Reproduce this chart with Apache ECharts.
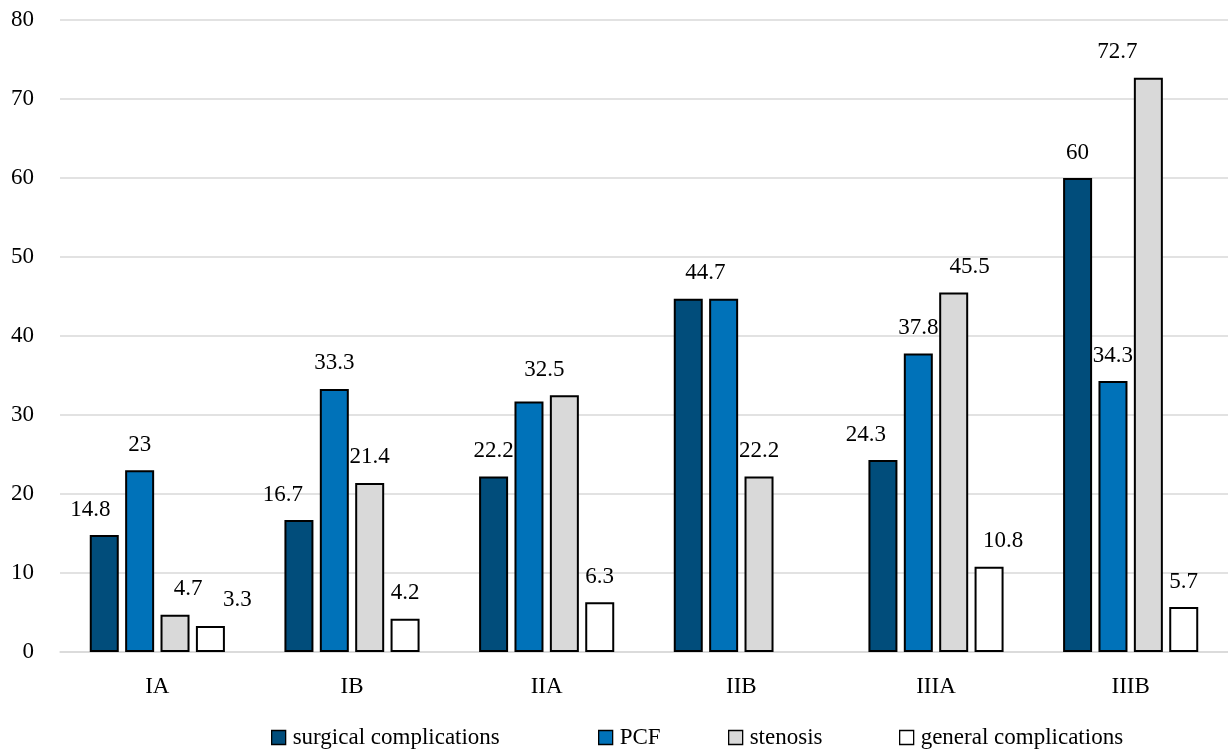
<!DOCTYPE html>
<html>
<head>
<meta charset="utf-8">
<script src="https://cdn.jsdelivr.net/npm/echarts@6/dist/echarts.min.js"></script>
<style>
html,body{margin:0;padding:0;background:#fff;}
#chart{width:1228px;height:749px;}
</style>
</head>
<body>
<div id="chart"></div>
<script>
// ---- data ----
var categories = ['IA', 'IB', 'IIA', 'IIB', 'IIIA', 'IIIB'];
var seriesNames = ['surgical complications', 'PCF', 'stenosis', 'general complications'];
var surgical = [14.8, 16.7, 22.2, 44.7, 24.3, 60];
var pcf = [23, 33.3, 31.7, 44.7, 37.8, 34.3];
var stenosis = [4.7, 21.4, 32.5, 22.2, 45.5, 72.7];
var general = [3.3, 4.2, 6.3, null, 10.8, 5.7];
var yTicks = { min: 0, max: 80, interval: 10 };

// ---- label placement (style only, not data) ----
var labelShift = [
  [-14, -16, 0, 17, -17, 0],
  [0, 0, null, null, 0, 0],
  [13, 0, -20, 0, 16, -31],
  [27, 0, 0, null, 14, 0]
];
var colors = ['#014d7b', '#0072b9', '#d9d9d9', '#ffffff'];
var legendLefts = [271, 598, 728, 899];
var FONT = '"Liberation Serif", "Times New Roman", serif';
var FS = 23;

function buildData(values, si) {
  return values.map(function (v, i) {
    var sh = labelShift[si][i];
    if (v === null) return { value: null };
    if (sh === null) return { value: v, label: { show: false } };
    return { value: v, label: { offset: [sh, 0] } };
  });
}

var allValues = [surgical, pcf, stenosis, general];
var series = allValues.map(function (vals, si) {
  return {
    name: seriesNames[si],
    type: 'bar',
    barWidth: 29,
    barGap: '22%',
    data: buildData(vals, si),
    itemStyle: { color: colors[si], borderColor: '#000', borderWidth: 2 },
    label: {
      show: true,
      position: 'top',
      distance: 14,
      color: '#000',
      fontFamily: FONT,
      fontSize: FS
    }
  };
});

var legends = seriesNames.map(function (n, i) {
  return {
    data: [n],
    left: legendLefts[i],
    top: 726,
    padding: 0,
    itemWidth: 14,
    itemHeight: 14,
    icon: 'rect',
    selectedMode: false,
    itemStyle: { borderColor: '#000', borderWidth: 1.3 },
    textStyle: { color: '#000', fontFamily: FONT, fontSize: FS, padding: [0, 0, 0, 2] }
  };
});

var chart = echarts.init(document.getElementById('chart'));
chart.setOption({
  animation: false,
  backgroundColor: '#fff',
  grid: { left: 60, top: 20, width: 1174, height: 632, containLabel: false },
  xAxis: {
    type: 'category',
    data: categories,
    axisLine: { show: true, lineStyle: { color: '#d9d9d9', width: 1.5 } },
    axisTick: { show: false },
    axisLabel: { color: '#000', fontFamily: FONT, fontSize: FS, margin: 23 }
  },
  yAxis: {
    type: 'value',
    min: yTicks.min,
    max: yTicks.max,
    interval: yTicks.interval,
    axisLine: { show: false },
    axisTick: { show: false },
    splitLine: { lineStyle: { color: '#d9d9d9', width: 1.5 } },
    axisLabel: { color: '#000', fontFamily: FONT, fontSize: FS, margin: 26 }
  },
  legend: legends,
  series: series
});
</script>
</body>
</html>
